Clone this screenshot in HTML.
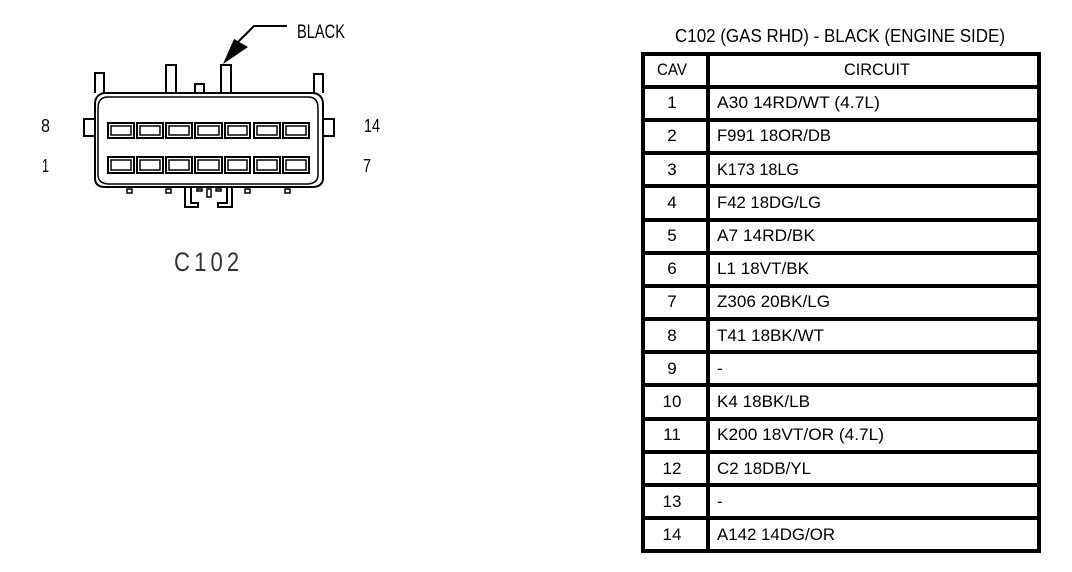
<!DOCTYPE html>
<html><head><meta charset="utf-8"><style>
html,body{margin:0;padding:0;background:#fff;width:1072px;height:572px;overflow:hidden}
svg{display:block}
text{font-family:"Liberation Sans",sans-serif;fill:#000}
.t{font-size:17px}
.c{font-size:17px;text-anchor:middle}
</style></head><body>
<svg width="1072" height="572" viewBox="0 0 1072 572" xmlns="http://www.w3.org/2000/svg">
<g fill="none" stroke="#000" stroke-width="2">
<path d="M95 93V73H104V93M166 93V65H176V93M195 93V84H204V93M221 93V65H231V93M314 93V74H323V93"/>
<path d="M104 93H314Q323 95 323 104V178Q323 187 312 187H105Q95 187 95 178V104Q95 95 104 93Z"/>
<path d="M108 97H308Q318 97 318 108V175Q318 183 308 184H108Q98 183 98 175V108Q98 97 108 97Z" stroke-width="1.5"/>
<path d="M95 119H84V136H95M323 119H334V136H323"/>
<path d="M185 188V207H198V203H191V188M232 188V207H218V203H227V188" stroke-width="2"/>
<path d="M127 189H132V193H127ZM166 189H171V193H166ZM197 189H202V191H197ZM207 189H211V197H207ZM216 189H221V191H216ZM245 189H250V193H245ZM285 189H290V193H285Z" stroke-width="1.5"/>
<g stroke-width="2">
<rect x="108" y="123" width="26" height="15"/><rect x="137" y="123" width="26" height="15"/><rect x="166" y="123" width="26" height="15"/><rect x="195" y="123" width="27" height="15"/><rect x="225" y="123" width="25" height="15"/><rect x="254" y="123" width="26" height="15"/><rect x="283" y="123" width="26" height="15"/>
<rect x="108" y="157" width="26" height="16"/><rect x="137" y="157" width="26" height="16"/><rect x="166" y="157" width="26" height="16"/><rect x="195" y="157" width="27" height="16"/><rect x="225" y="157" width="25" height="16"/><rect x="254" y="157" width="26" height="16"/><rect x="283" y="157" width="26" height="16"/>
</g>
<g stroke-width="1.5">
<rect x="111" y="126" width="20" height="9"/><rect x="140" y="126" width="20" height="9"/><rect x="169" y="126" width="20" height="9"/><rect x="198" y="126" width="21" height="9"/><rect x="228" y="126" width="19" height="9"/><rect x="257" y="126" width="20" height="9"/><rect x="286" y="126" width="20" height="9"/>
<rect x="111" y="160" width="20" height="10"/><rect x="140" y="160" width="20" height="10"/><rect x="169" y="160" width="20" height="10"/><rect x="198" y="160" width="21" height="10"/><rect x="228" y="160" width="19" height="10"/><rect x="257" y="160" width="20" height="10"/><rect x="286" y="160" width="20" height="10"/>
</g>
<path d="M287 26H254L237 43"/>
</g>
<path d="M223 64L234 39L248 47Z" fill="#000"/>
<text x="297" y="38" font-size="19" textLength="48" lengthAdjust="spacingAndGlyphs">BLACK</text>
<text x="41" y="132" font-size="18" textLength="9" lengthAdjust="spacingAndGlyphs">8</text>
<text x="42" y="172" font-size="18" textLength="7" lengthAdjust="spacingAndGlyphs">1</text>
<text x="364" y="132" font-size="18" textLength="16" lengthAdjust="spacingAndGlyphs">14</text>
<text x="363" y="172" font-size="18" textLength="8" lengthAdjust="spacingAndGlyphs">7</text>
<text transform="translate(174 271) scale(.82 1)" font-size="27" letter-spacing="5" fill-opacity=".8">C102</text>

<text x="675" y="42" font-size="18" textLength="330" lengthAdjust="spacingAndGlyphs">C102 (GAS RHD) - BLACK (ENGINE SIDE)</text>
<g fill="none" stroke="#000" stroke-width="4" shape-rendering="crispEdges">
<rect x="643" y="54" width="396" height="497"/>
<path d="M708 54V551"/>
<path d="M643 87H1039M643 120H1039M643 153H1039M643 186H1039M643 220H1039M643 253H1039M643 286H1039M643 319H1039M643 352H1039M643 385H1039M643 419H1039M643 452H1039M643 485H1039M643 518H1039"/>
</g>
<text x="657" y="75" class="t" textLength="30" lengthAdjust="spacingAndGlyphs">CAV</text>
<text x="844" y="75" class="t" textLength="66" lengthAdjust="spacingAndGlyphs">CIRCUIT</text>
<g class="n">
<text x="672" y="108" class="c">1</text><text x="672" y="141" class="c">2</text><text x="672" y="175" class="c">3</text><text x="672" y="208" class="c">4</text><text x="672" y="241" class="c">5</text><text x="672" y="274" class="c">6</text><text x="672" y="307" class="c">7</text><text x="672" y="341" class="c">8</text><text x="672" y="374" class="c">9</text><text x="672" y="407" class="c">10</text><text x="672" y="440" class="c">11</text><text x="672" y="474" class="c">12</text><text x="672" y="507" class="c">13</text><text x="672" y="540" class="c">14</text>
</g>
<g class="t">
<text x="717" y="108" textLength="163" lengthAdjust="spacingAndGlyphs">A30 14RD/WT (4.7L)</text>
<text x="717" y="141" textLength="114" lengthAdjust="spacingAndGlyphs">F991 18OR/DB</text>
<text x="717" y="175" textLength="82" lengthAdjust="spacingAndGlyphs">K173 18LG</text>
<text x="717" y="208" textLength="104" lengthAdjust="spacingAndGlyphs">F42 18DG/LG</text>
<text x="717" y="241" textLength="98" lengthAdjust="spacingAndGlyphs">A7 14RD/BK</text>
<text x="717" y="274" textLength="92" lengthAdjust="spacingAndGlyphs">L1 18VT/BK</text>
<text x="717" y="307" textLength="113" lengthAdjust="spacingAndGlyphs">Z306 20BK/LG</text>
<text x="717" y="341" textLength="107" lengthAdjust="spacingAndGlyphs">T41 18BK/WT</text>
<text x="717" y="374">-</text>
<text x="717" y="407" textLength="93" lengthAdjust="spacingAndGlyphs">K4 18BK/LB</text>
<text x="717" y="440" textLength="167" lengthAdjust="spacingAndGlyphs">K200 18VT/OR (4.7L)</text>
<text x="717" y="474" textLength="94" lengthAdjust="spacingAndGlyphs">C2 18DB/YL</text>
<text x="717" y="507">-</text>
<text x="717" y="540" textLength="118" lengthAdjust="spacingAndGlyphs">A142 14DG/OR</text>
</g>
</svg>
</body></html>
